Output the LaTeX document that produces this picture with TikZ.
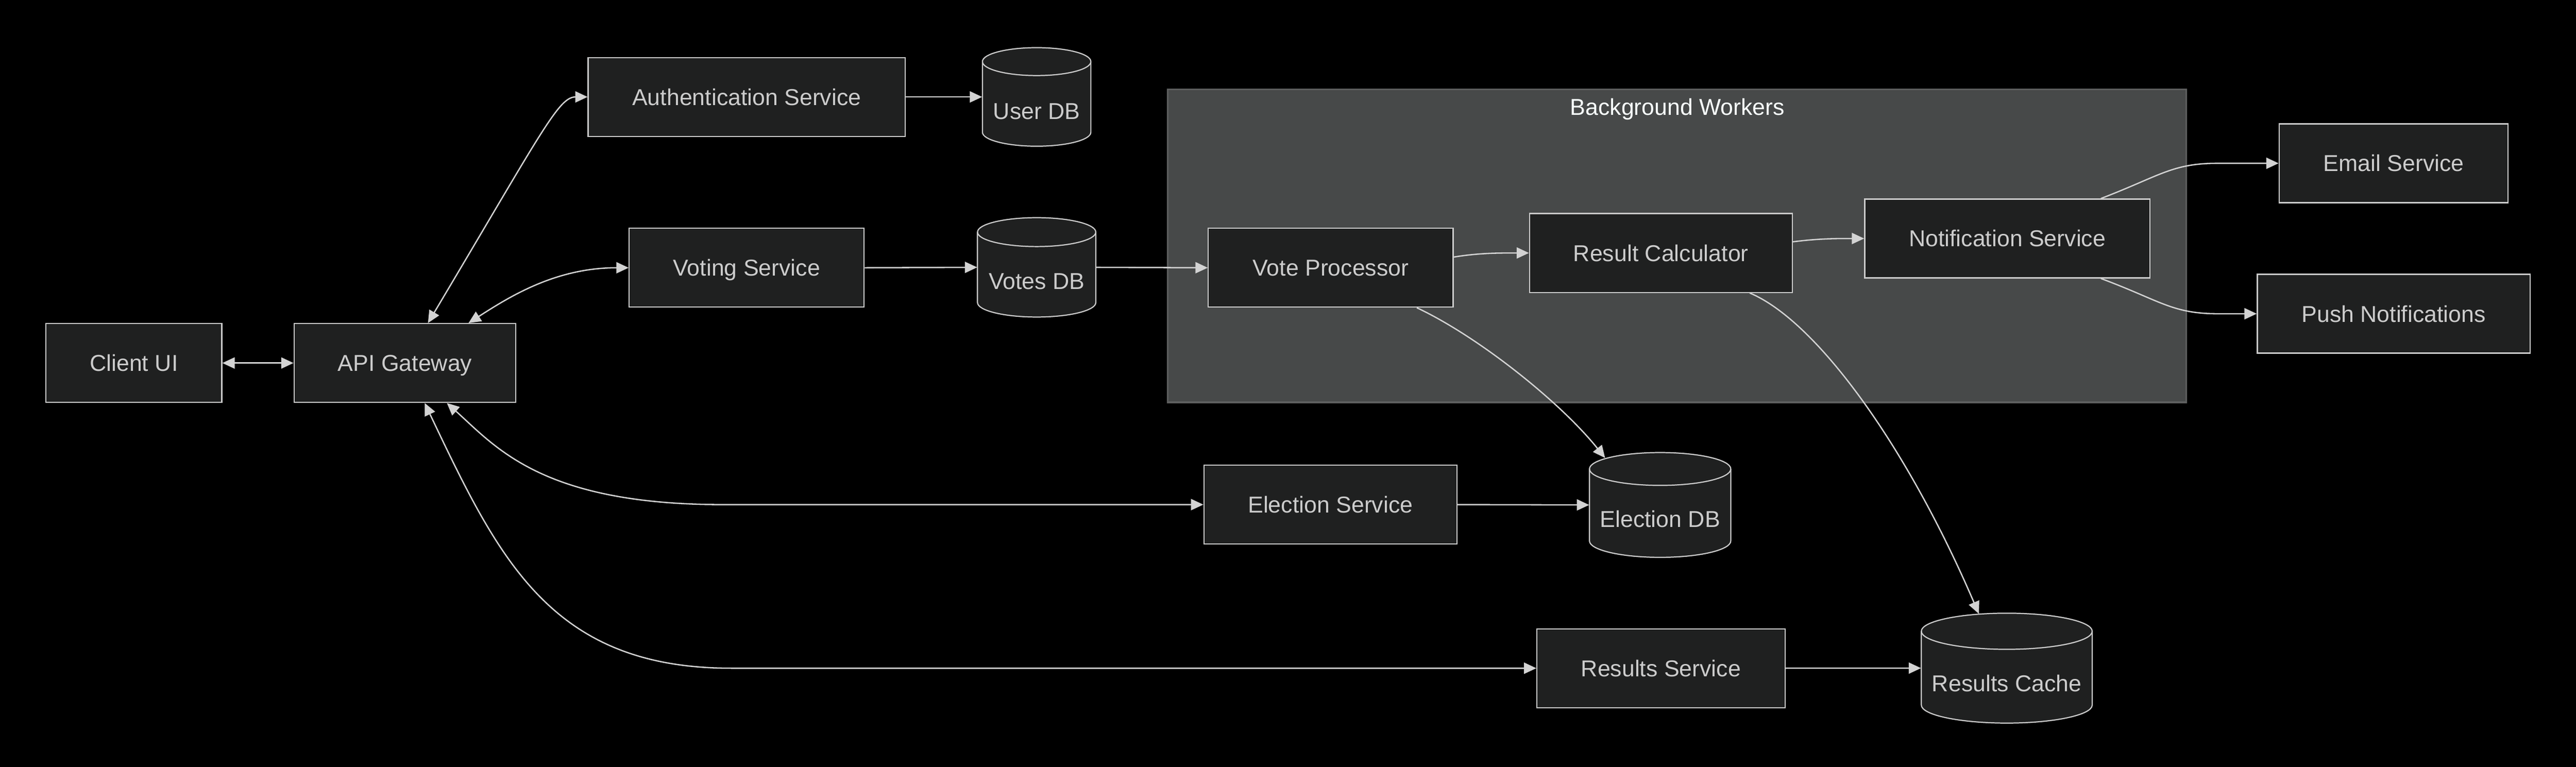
\documentclass[tikz,border=0pt]{standalone}
\usepackage{fontspec}
\setmainfont{Liberation Sans}
\usetikzlibrary{arrows.meta}
\definecolor{nodefill}{HTML}{1F2020}
\definecolor{bordc}{HTML}{CCCCCC}
\definecolor{textc}{HTML}{CCCCCC}
\definecolor{edgec}{HTML}{D3D3D3}
\definecolor{clfill}{HTML}{474949}
\definecolor{clbord}{HTML}{5E5F5F}
\definecolor{cltext}{HTML}{F9FFFE}
\newcommand\dbcyl[6]{% name, cx, top, bottom, rx, ry
  \path[fill=nodefill, draw=bordc, line width=0.7pt]
    ({#2-#5},{#3+#6}) -- ({#2-#5},{#4-#6})
    arc[start angle=180,end angle=360,x radius=#5pt,y radius=#6pt]
    -- ({#2+#5},{#3+#6})
    arc[start angle=0,end angle=180,x radius=#5pt,y radius=#6pt] -- cycle;
  \draw[bordc, line width=0.7pt] ({#2-#5},{#3+#6})
    arc[start angle=180,end angle=360,x radius=#5pt,y radius=#6pt];
  \node[cyl, minimum width=2*#5pt, minimum height=#4pt-#3pt] (#1) at (#2,{(#3+#4)/2}) {};
}
\begin{document}
\begin{tikzpicture}[x=1pt,y=-1pt,
  box/.style={draw=bordc, fill=nodefill, line width=0.7pt, text=textc,
    font=\fontsize{14}{16}\selectfont, inner sep=0pt, minimum height=48pt,
    text height=10pt, text depth=0pt},
  cyl/.style={draw=none, inner sep=0pt},
  lbl/.style={text=textc, font=\fontsize{14}{16}\selectfont, inner sep=0pt,
    text height=10pt, text depth=0pt},
  tip/.tip={Triangle[length=7.5pt,width=6.8pt]},
  link/.style={draw=edgec, line width=0.8pt, -tip},
  blink/.style={draw=edgec, line width=0.8pt, tip-tip}]
\fill[black] (0,0) rectangle (1568,466.8);
\useasboundingbox (0,0) rectangle (1568,466.8);

% cluster
\node[draw=clbord, fill=clfill, line width=1pt, inner sep=0pt,
  minimum width=620pt, minimum height=190.4pt] (bw) at (1020.75,149.7) {};
\node[lbl, text=cltext] (bwl) at (1021,65) {Background Workers};

% boxes
\node[box, minimum width=107pt] (cui) at (81.5,221) {Client UI};
\node[box, minimum width=135pt] (gw) at (246.5,221) {API Gateway};
\node[box, minimum width=193pt] (auth) at (454.5,59) {Authentication Service};
\node[box, minimum width=143pt] (vote) at (454.5,163) {Voting Service};
\node[box, minimum width=149pt] (vp) at (810,163) {Vote Processor};
\node[box, minimum width=160pt] (rc) at (1011,154) {Result Calculator};
\node[box, minimum width=173.5pt] (ns) at (1221.8,145.2) {Notification Service};
\node[box, minimum width=139.4pt] (email) at (1457,99.4) {Email Service};
\node[box, minimum width=166pt] (push) at (1457,191) {Push Notifications};
\node[box, minimum width=154pt] (esvc) at (809.8,307.2) {Election Service};
\node[box, minimum width=151pt] (rsvc) at (1011,406.8) {Results Service};

% databases
\dbcyl{udb}{631}{29}{89}{33}{8.5}
\node[lbl] (udbt) at (631,67.5) {User DB};
\dbcyl{vdb}{631}{132.5}{193}{36}{8.8}
\node[lbl] (vdbt) at (631,171) {Votes DB};
\dbcyl{edb}{1010.5}{275.5}{339.3}{43}{10}
\node[lbl] (edbt) at (1010.5,316) {Election DB};
\dbcyl{rcache}{1221.5}{373.3}{440.2}{52}{11}
\node[lbl] (rcachet) at (1221.5,416) {Results Cache};

% connectors
\draw[blink] (cui.east) -- (gw.west);
\draw[blink] ([xshift=14pt]gw.north) .. controls (330,80) and (340,59) .. (auth.west);
\draw[blink] ([xshift=38.7pt]gw.north) .. controls (310,180.75) and (338,163) .. (vote.west);
\draw[blink] ([xshift=25.5pt]gw.south) .. controls (302,272.3) and (330,307.2) .. (440,307.2) -- (esvc.west);
\draw[blink] ([xshift=12pt]gw.south) .. controls (303.5,340) and (335,406.8) .. (445,406.8) -- (rsvc.west);
\draw[link] (auth.east) -- (udb.west);
\draw[link] (vote.east) -- (vdb.west);
\draw[link] (vdb.east) -- (vp.west);
\draw[link] ([yshift=6.5pt]vp.east) .. controls (900,154) and (912,154) .. (rc.west);
\draw[link] ([yshift=6.8pt]rc.east) .. controls (1107,145.2) and (1118,145.2) .. (ns.west);
\draw[link] ([xshift=57pt]ns.north) .. controls (1315,107) and (1322,99.4) .. (1350,99.4) -- (email.west);
\draw[link] ([xshift=57pt]ns.south) .. controls (1315,183) and (1322,191) .. (1350,191) -- (push.west);
\draw[link] ([xshift=52.4pt]vp.south) .. controls (900,205) and (950,245) .. ([xshift=-33.5pt,yshift=-3.5pt]edb.north);
\draw[link] ([xshift=54pt]rc.south) .. controls (1105,195) and (1160,270) .. ([xshift=-17pt,yshift=-0.6pt]rcache.north);
\draw[link] (esvc.east) -- (edb.west);
\draw[link] (rsvc.east) -- (rcache.west);
\end{tikzpicture}
\end{document}
